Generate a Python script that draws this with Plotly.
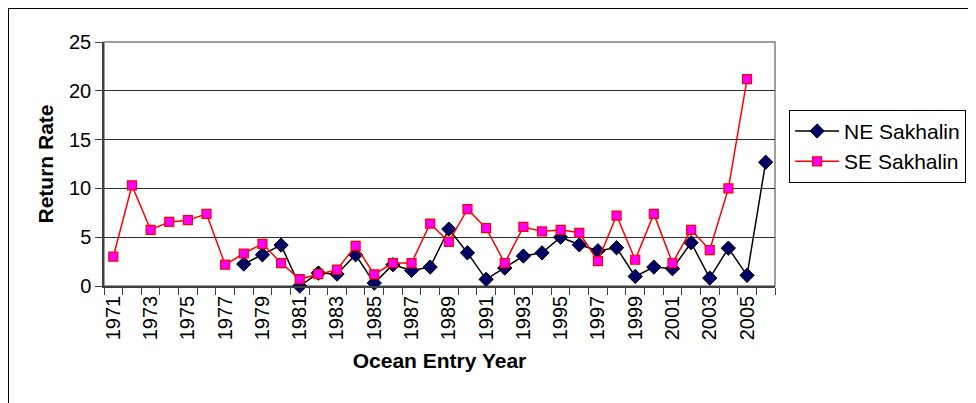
import plotly.graph_objects as go

years = list(range(1971, 2007))
ne_sakhalin = [None, None, None, None, None, None, None,
               2.25, 3.2, 4.19, 0.0, 1.33, 1.22, 3.2, 0.3, 2.18, 1.6, 1.94,
               5.83, 3.4, 0.68, 1.84, 3.07, 3.4, 5.0, 4.22, 3.61, 3.92,
               0.98, 1.94, 1.77, 4.43, 0.81, 3.88, 1.09, 12.68]
se_sakhalin = [3.0, 10.3, 5.76, 6.57, 6.74, 7.39, 2.18, 3.33, 4.32, 2.35,
               0.71, 1.22, 1.67, 4.12, 1.19, 2.35, 2.35, 6.4, 4.53, 7.87,
               5.93, 2.35, 6.06, 5.59, 5.76, 5.45, 2.55, 7.22, 2.69, 7.39,
               2.35, 5.76, 3.68, 10.0, 21.2, None]
tick_years = list(range(1971, 2006, 2))
y_ticks = [0, 5, 10, 15, 20, 25]

FONT = "Liberation Sans, Arial, sans-serif"

fig = go.Figure()
fig.add_trace(go.Scatter(
    x=years, y=ne_sakhalin, name="NE Sakhalin", mode="lines+markers",
    line=dict(color="black", width=1.5),
    marker=dict(symbol="diamond", size=11, color="#000066",
                line=dict(color="black", width=1)),
    cliponaxis=False, connectgaps=False))
fig.add_trace(go.Scatter(
    x=years, y=se_sakhalin, name="SE Sakhalin", mode="lines+markers",
    line=dict(color="#FF0000", width=1.5),
    marker=dict(symbol="square", size=9, color="#FF00FF",
                line=dict(color="#FF0000", width=1.2)),
    cliponaxis=False, connectgaps=False))

fig.update_layout(
    width=976, height=403,
    margin=dict(l=96, r=209, t=34, b=125),
    paper_bgcolor="white", plot_bgcolor="white",
    font=dict(family=FONT, size=20, color="black"),
    showlegend=True,
    legend=dict(x=1.021, y=0.722, xanchor="left", yanchor="top",
                bordercolor="black", borderwidth=1, bgcolor="white",
                font=dict(size=21, family=FONT), tracegroupgap=0,
                itemwidth=44),
    xaxis=dict(
        range=[1970.5, 2006.5], tickmode="array", tickvals=tick_years,
        ticktext=[str(t) for t in tick_years], tickangle=-90, ticks="",
        showgrid=False, zeroline=False, showline=True, linecolor="#404040",
        linewidth=1.5, tickfont=dict(size=20),
        minor=dict(tickmode="linear", tick0=1970.5, dtick=1, ticks="outside",
                   ticklen=7, tickcolor="#404040", showgrid=False),
        title=dict(text="<b>Ocean Entry Year</b>", font=dict(size=21),
                   standoff=14)),
    yaxis=dict(
        range=[0, 25], tickmode="array", tickvals=y_ticks, ticks="outside",
        ticklen=7, tickcolor="#404040", showgrid=True, gridcolor="#303030",
        gridwidth=1, zeroline=False, showline=True, linecolor="#404040",
        linewidth=1.5, tickfont=dict(size=20),
        title=dict(text="<b>Return Rate</b>", font=dict(size=21), standoff=10)),
    shapes=[
        dict(type="rect", xref="paper", yref="paper", x0=0, x1=1, y0=0, y1=1,
             line=dict(color="#808080", width=1.5), layer="below"),
        dict(type="rect", xref="paper", yref="paper",
             x0=-96 / 671, x1=(965 - 96) / 671,
             y0=-0.6, y1=1 + 34 / 244, line=dict(color="black", width=2)),
    ],
)

fig.write_html("out.html")
